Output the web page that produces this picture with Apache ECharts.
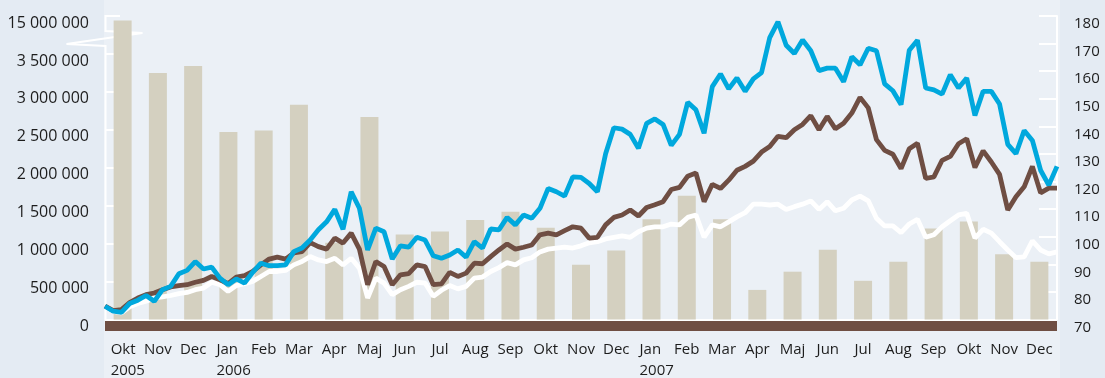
<!DOCTYPE html>
<html>
<head>
<meta charset="utf-8">
<script src="https://cdn.jsdelivr.net/npm/echarts@6.0.0/dist/echarts.min.js"></script>
<style>
  html, body { margin: 0; padding: 0; background: #e4ebf3; }
  #chart { width: 1105px; height: 378px; }
</style>
</head>
<body>
<div id="chart"></div>
<script>
// Month categories for the turnover bars (Okt 2005 – Dec 2007)
const months = ['Okt','Nov','Dec','Jan','Feb','Mar','Apr','Maj','Jun','Jul','Aug','Sep',
                'Okt','Nov','Dec','Jan','Feb','Mar','Apr','Maj','Jun','Jul','Aug','Sep',
                'Okt','Nov','Dec'];
const years = ['2005','','','2006','','','','','','','','','','','','2007','','','','','','','','','','',''];

// Monthly turnover (left axis, broken between 3.5 M and 15 M)
const turnover = [13600000, 3250000, 3340000, 2470000, 2490000, 2830000, 1010000, 2670000,
                  1120000, 1160000, 1310000, 1420000, 1210000, 720000, 910000, 1320000,
                  1630000, 1320000, 390000, 630000, 920000, 510000, 760000, 1200000,
                  1290000, 860000, 760000];

// Weekly index series (right axis)
const blueIndex = [74.8, 73.0, 72.6, 75.8, 77.0, 78.7, 76.6, 80.8, 82.0, 86.6,
  87.8, 91.0, 88.3, 89.0, 85.0, 82.6, 84.7, 83.2, 87.1, 90.4,
  89.5, 89.5, 89.8, 94.6, 95.9, 98.8, 102.5, 105.4, 109.9, 102.7,
  116.3, 110.3, 95.2, 103.1, 101.8, 91.9, 96.7, 96.2, 99.8, 98.8,
  93.1, 92.2, 93.4, 95.2, 92.6, 98.2, 95.9, 102.8, 102.5, 107.0,
  104.3, 107.9, 106.7, 110.3, 117.5, 116.3, 114.7, 121.7, 121.5, 119.3,
  116.3, 130.1, 139.5, 139.0, 137.1, 132.1, 141.1, 142.7, 140.7, 133.1,
  137.1, 148.7, 146.0, 137.5, 154.4, 159.0, 153.6, 157.5, 152.7, 157.2,
  159.5, 172.2, 177.9, 169.4, 166.4, 171.3, 167.4, 160.2, 161.1, 161.1,
  156.2, 165.2, 162.3, 168.3, 167.4, 155.4, 152.9, 147.9, 167.6, 171.2,
  153.9, 153.2, 151.7, 158.7, 153.9, 157.5, 143.9, 152.7, 152.7, 148.1,
  133.5, 130.1, 138.5, 134.9, 124.1, 118.7, 125.5];

const brownIndex = [74.9, 73.2, 73.6, 76.1, 77.8, 79.0, 79.6, 80.8, 81.8, 82.3,
  82.6, 83.5, 84.2, 85.6, 84.4, 83.0, 85.4, 85.9, 87.4, 89.8,
  91.9, 92.6, 91.9, 94.1, 94.6, 97.9, 96.4, 95.5, 99.5, 97.7,
  101.3, 95.5, 82.6, 91.0, 89.2, 82.6, 86.2, 86.6, 89.8, 89.2,
  82.6, 82.9, 87.1, 85.6, 86.8, 90.4, 90.2, 92.8, 95.2, 97.4,
  95.5, 96.2, 97.0, 100.7, 101.3, 100.7, 102.2, 103.6, 103.1, 99.5,
  99.8, 104.3, 107.0, 107.9, 109.7, 107.5, 110.6, 111.6, 112.7, 117.1,
  117.9, 121.9, 123.1, 112.7, 119.0, 117.5, 120.5, 124.1, 125.5, 127.4,
  130.7, 132.7, 136.4, 135.9, 138.8, 140.7, 143.9, 138.8, 143.6, 139.1,
  141.1, 144.8, 150.5, 146.7, 135.2, 131.3, 129.9, 124.7, 131.9, 133.9,
  121.1, 121.7, 127.7, 129.1, 133.7, 135.5, 125.1, 131.1, 127.1, 122.6,
  109.7, 114.5, 118.1, 125.5, 115.9, 117.6, 117.6];

const whiteIndex = [74.7, 72.9, 72.4, 74.6, 75.8, 76.6, 77.8, 78.2, 78.7, 79.4,
  79.8, 80.8, 81.4, 83.5, 82.6, 80.2, 82.3, 83.0, 83.8, 85.6,
  87.4, 87.4, 87.8, 89.8, 91.0, 92.8, 91.6, 91.0, 92.2, 89.8,
  92.2, 88.6, 77.8, 85.0, 83.2, 79.0, 80.8, 82.0, 83.5, 83.2,
  78.4, 80.6, 82.3, 81.1, 82.0, 85.0, 85.4, 87.4, 88.8, 90.6,
  89.8, 91.6, 92.4, 94.5, 95.5, 95.9, 96.2, 95.9, 96.7, 97.8,
  98.2, 99.2, 99.8, 100.3, 99.8, 101.8, 103.1, 103.6, 103.6, 104.6,
  104.3, 107.0, 107.9, 99.8, 104.3, 103.6, 105.4, 107.2, 108.7, 111.8,
  111.8, 111.5, 111.8, 109.9, 110.9, 111.8, 113.0, 109.9, 112.7, 109.4,
  110.3, 113.3, 114.7, 113.0, 106.7, 103.9, 103.9, 101.5, 104.6, 106.3,
  99.8, 100.7, 103.6, 105.8, 107.9, 108.5, 99.5, 102.7, 101.3, 98.2,
  95.2, 92.4, 92.7, 98.5, 95.2, 93.8, 94.5];

// Week positions along the hidden line axis
const weeks = blueIndex.map((_, i) => String(i));

const GRID = { left: 105, right: 48, top: 16, bottom: 58 };
const FONT = "'Open Sans', 'Noto Sans', sans-serif";
const TEXT = '#1d1d1d';

const spaced = v => String(Math.round(v)).replace(/\B(?=(\d{3})+(?!\d))/g, ' ');

const chart = echarts.init(document.getElementById('chart'), null, { renderer: 'canvas' });

chart.setOption({
  backgroundColor: '#e4ebf3',
  animation: false,
  grid: { left: GRID.left, right: GRID.right, top: GRID.top, bottom: GRID.bottom, containLabel: false },
  graphic: [{
    id: 'plotColumn', type: 'rect', z: -10, silent: true,
    shape: { x: GRID.left - 1, y: 0, width: 1105 - GRID.left - GRID.right + 4, height: 378 },
    style: { fill: '#ebf0f6' }
  }],
  xAxis: [{
    type: 'category',
    data: months,
    gridIndex: 0,
    position: 'bottom',
    offset: 6.5,
    boundaryGap: true,
    axisLine: { show: true, onZero: false, lineStyle: { color: '#6f4e43', width: 10, cap: 'butt' } },
    axisTick: { show: false },
    splitLine: { show: false },
    axisLabel: {
      interval: 0,
      margin: 13,
      color: TEXT,
      fontFamily: FONT,
      fontSize: 15,
      formatter: (value, idx) => years[idx]
        ? '{a|' + value + '}\n{a|' + years[idx] + '}'
        : '{c|' + value + '}',
      rich: {
        a: { fontFamily: FONT, fontSize: 15, color: TEXT, lineHeight: 21, width: 24, align: 'left' },
        c: { fontFamily: FONT, fontSize: 15, color: TEXT, lineHeight: 21 }
      }
    }
  }, {
    type: 'category',
    data: weeks,
    gridIndex: 0,
    position: 'bottom',
    boundaryGap: false,
    axisLine: { show: true, onZero: false, lineStyle: { color: '#ffffff', width: 2, cap: 'butt' } },
    axisTick: { show: false },
    axisLabel: { show: false },
    splitLine: { show: false }
  }],
  yAxis: [{
    type: 'value',
    position: 'left',
    min: 0,
    max: 15000000,
    interval: 500000,
    breaks: [{ start: 3500000, end: 15000000, gap: 500000 }],
    breakArea: { show: false },
    axisLine: { show: false },
    axisTick: { show: true, inside: true, length: 15, lineStyle: { color: '#ffffff', width: 2 } },
    splitLine: { show: false },
    axisLabel: {
      margin: 16,
      color: TEXT,
      fontFamily: FONT,
      fontSize: 16,
      verticalAlign: 'top',
      lineHeight: 14
    }
  }, {
    type: 'value',
    position: 'right',
    min: 70,
    max: 180,
    interval: 10,
    axisLine: { show: true, lineStyle: { color: '#ffffff', width: 2 } },
    axisTick: { show: true, inside: true, length: 18, lineStyle: { color: '#ffffff', width: 2 } },
    splitLine: { show: false },
    axisLabel: {
      margin: 17,
      color: TEXT,
      fontFamily: FONT,
      fontSize: 15,
      verticalAlign: 'top',
      lineHeight: 16
    }
  }],
  series: [{
    name: 'Omsättning',
    type: 'bar',
    xAxisIndex: 0,
    yAxisIndex: 0,
    data: turnover,
    barWidth: 18,
    itemStyle: { color: '#d4d0c0' },
    z: 2
  }, {
    name: 'Index 3',
    type: 'line',
    xAxisIndex: 1,
    yAxisIndex: 1,
    data: whiteIndex,
    symbol: 'none',
    lineStyle: { color: '#ffffff', width: 4.8 },
    z: 3
  }, {
    name: 'Index 2',
    type: 'line',
    xAxisIndex: 1,
    yAxisIndex: 1,
    data: brownIndex,
    symbol: 'none',
    lineStyle: { color: '#6f4e43', width: 4.8 },
    z: 4
  }, {
    name: 'Index 1',
    type: 'line',
    xAxisIndex: 1,
    yAxisIndex: 1,
    data: blueIndex,
    symbol: 'none',
    lineStyle: { color: '#00a8dd', width: 4.8 },
    z: 5
  }]
});

// The left axis formatter is applied after layout so tick labels keep spaced thousands
chart.setOption({ yAxis: [{ axisLabel: { formatter: spaced } }, {}] });

// Left axis line with the break glyph between 3.5 M and 15 M
const L = GRID.left + 0.5;
const yZero = chart.convertToPixel({ yAxisIndex: 0 }, 0);
const yLow = chart.convertToPixel({ yAxisIndex: 0 }, 3500000);
const yTop = chart.convertToPixel({ yAxisIndex: 0 }, 15000000);

chart.setOption({
  graphic: [{
    id: 'leftAxisBreak', type: 'polyline', z: 1, silent: true,
    shape: {
      points: [
        [L, yZero + 1], [L, yLow - 8], [L - 39, yLow - 10],
        [L + 37, yLow - 21], [L, yTop + 15], [L, yTop - 1]
      ]
    },
    style: { stroke: '#ffffff', lineWidth: 2, fill: null }
  }]
});
</script>
</body>
</html>
